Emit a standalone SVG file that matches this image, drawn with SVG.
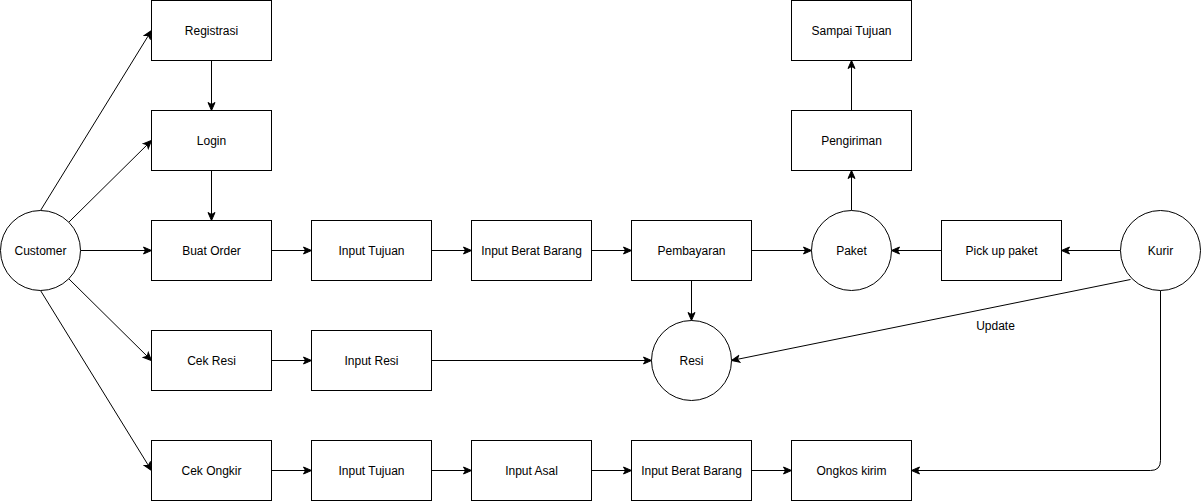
<svg xmlns="http://www.w3.org/2000/svg" width="1201" height="501" viewBox="0 0 1201 501">
<style>
.n rect, .n circle { fill: #fff; stroke: #000; stroke-width: 1; }
.n text, .lbl { font-family: "Liberation Sans", Arial, sans-serif; font-size: 12px; fill: #000; text-anchor: middle; dominant-baseline: central; }
.e { fill: none; stroke: #000; stroke-width: 1; marker-end: url(#arr); }
</style>
<defs>
<marker id="arr" markerUnits="userSpaceOnUse" markerWidth="10" markerHeight="10" viewBox="0 0 10 10" refX="9" refY="5" orient="auto">
<path d="M1,1.5 L9,5 L1,8.5 L3,5 Z" fill="#000" stroke="#000" stroke-width="1"/>
</marker>
</defs>
<rect width="1201" height="501" fill="#fff"/>
<g id="connectors">
<path class="e" d="M40.5,210.5 L151.5,30.5"/>
<path class="e" d="M68.8,222.2 L151.5,140.5"/>
<path class="e" d="M80.5,250.5 L151.5,250.5"/>
<path class="e" d="M68.8,278.8 L151.5,360.5"/>
<path class="e" d="M40.5,290.5 L151.5,470.5"/>
<path class="e" d="M211.5,60.5 L211.5,110.5"/>
<path class="e" d="M211.5,170.5 L211.5,220.5"/>
<path class="e" d="M271.5,250.5 L311.5,250.5"/>
<path class="e" d="M431.5,250.5 L471.5,250.5"/>
<path class="e" d="M591.5,250.5 L631.5,250.5"/>
<path class="e" d="M751.5,250.5 L811.5,250.5"/>
<path class="e" d="M691.5,280.5 L691.5,320.5"/>
<path class="e" d="M851.5,210.5 L851.5,170.5"/>
<path class="e" d="M851.5,110.5 L851.5,60.5"/>
<path class="e" d="M941.5,250.5 L891.5,250.5"/>
<path class="e" d="M1120.5,250.5 L1061.5,250.5"/>
<path class="e" d="M271.5,360.5 L311.5,360.5"/>
<path class="e" d="M431.5,360.5 L651.5,360.5"/>
<path class="e" d="M1130.5,279.5 L731.5,360.5"/>
<path class="e" d="M271.5,470.5 L311.5,470.5"/>
<path class="e" d="M431.5,470.5 L471.5,470.5"/>
<path class="e" d="M591.5,470.5 L631.5,470.5"/>
<path class="e" d="M751.5,470.5 L791.5,470.5"/>
<path class="e" d="M1160.5,290.5 L1160.5,460.5 Q1160.5,470.5 1150.5,470.5 L911.5,470.5"/>
<text class="lbl" x="995.5" y="325.5">Update</text>
</g>
<g id="customer" class="n"><circle cx="40.5" cy="250.5" r="40"/><text x="40.5" y="250.5">Customer</text></g>
<g id="registrasi" class="n"><rect x="151.5" y="0.5" width="120" height="60"/><text x="211.5" y="30.5">Registrasi</text></g>
<g id="login" class="n"><rect x="151.5" y="110.5" width="120" height="60"/><text x="211.5" y="140.5">Login</text></g>
<g id="buat-order" class="n"><rect x="151.5" y="220.5" width="120" height="60"/><text x="211.5" y="250.5">Buat Order</text></g>
<g id="input-tujuan-1" class="n"><rect x="311.5" y="220.5" width="120" height="60"/><text x="371.5" y="250.5">Input Tujuan</text></g>
<g id="input-berat-1" class="n"><rect x="471.5" y="220.5" width="120" height="60"/><text x="531.5" y="250.5">Input Berat Barang</text></g>
<g id="pembayaran" class="n"><rect x="631.5" y="220.5" width="120" height="60"/><text x="691.5" y="250.5">Pembayaran</text></g>
<g id="paket" class="n"><circle cx="851.5" cy="250.5" r="40"/><text x="851.5" y="250.5">Paket</text></g>
<g id="pickup" class="n"><rect x="941.5" y="220.5" width="120" height="60"/><text x="1001.5" y="250.5">Pick up paket</text></g>
<g id="kurir" class="n"><circle cx="1160.5" cy="250.5" r="40"/><text x="1160.5" y="250.5">Kurir</text></g>
<g id="pengiriman" class="n"><rect x="791.5" y="110.5" width="120" height="60"/><text x="851.5" y="140.5">Pengiriman</text></g>
<g id="sampai-tujuan" class="n"><rect x="791.5" y="0.5" width="120" height="60"/><text x="851.5" y="30.5">Sampai Tujuan</text></g>
<g id="cek-resi" class="n"><rect x="151.5" y="330.5" width="120" height="60"/><text x="211.5" y="360.5">Cek Resi</text></g>
<g id="input-resi" class="n"><rect x="311.5" y="330.5" width="120" height="60"/><text x="371.5" y="360.5">Input Resi</text></g>
<g id="resi" class="n"><circle cx="691.5" cy="360.5" r="40"/><text x="691.5" y="360.5">Resi</text></g>
<g id="cek-ongkir" class="n"><rect x="151.5" y="440.5" width="120" height="60"/><text x="211.5" y="470.5">Cek Ongkir</text></g>
<g id="input-tujuan-2" class="n"><rect x="311.5" y="440.5" width="120" height="60"/><text x="371.5" y="470.5">Input Tujuan</text></g>
<g id="input-asal" class="n"><rect x="471.5" y="440.5" width="120" height="60"/><text x="531.5" y="470.5">Input Asal</text></g>
<g id="input-berat-2" class="n"><rect x="631.5" y="440.5" width="120" height="60"/><text x="691.5" y="470.5">Input Berat Barang</text></g>
<g id="ongkos-kirim" class="n"><rect x="791.5" y="440.5" width="120" height="60"/><text x="851.5" y="470.5">Ongkos kirim</text></g>
</svg>
